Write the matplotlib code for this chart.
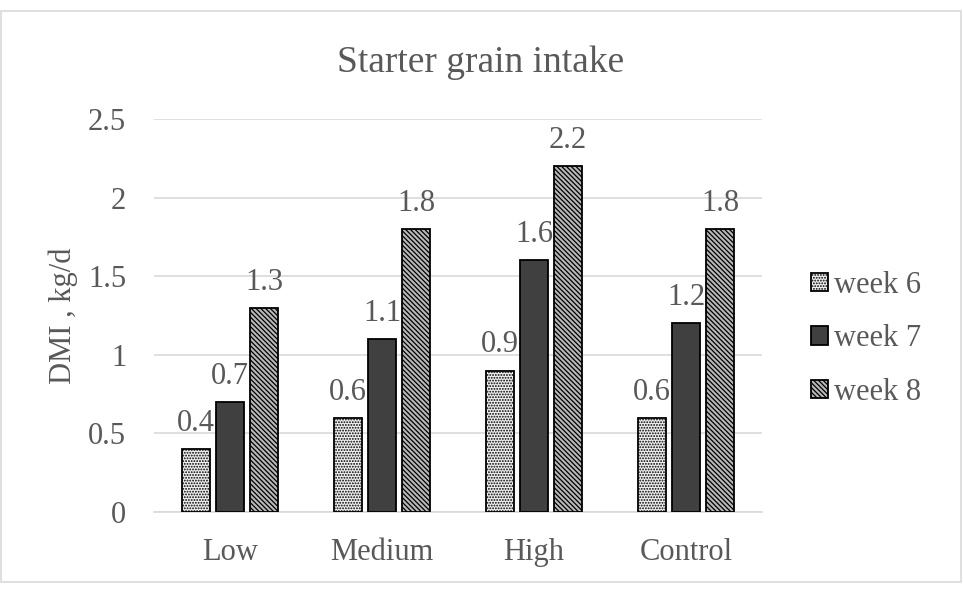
import matplotlib.pyplot as plt
import numpy as np

categories = ["Low", "Medium", "High", "Control"]
week6 = [0.4, 0.6, 0.9, 0.6]
week7 = [0.7, 1.1, 1.6, 1.2]
week8 = [1.3, 1.8, 2.2, 1.8]
series_names = ["week 6", "week 7", "week 8"]

plt.rcParams['font.family'] = ['Liberation Serif', 'DejaVu Serif']
plt.rcParams['hatch.linewidth'] = 0.9
txt = '#595959'
fs = 22

fig = plt.figure(figsize=(9.63, 5.92), dpi=100)
ax = fig.add_axes([154/963, 1 - 512/592, (762-154)/963, (512-119)/592])

x = np.arange(len(categories))
w = 0.184
step = 0.224
styles = [
    dict(facecolor='#f0f0f0', hatch='......', edgecolor='black'),
    dict(facecolor='#404040', hatch=None, edgecolor='black'),
    dict(facecolor='#b8b8b8', hatch='\\\\\\\\\\\\\\', edgecolor='black'),
]
for i, (vals, name, st) in enumerate(zip([week6, week7, week8], series_names, styles)):
    bars = ax.bar(x + (i - 1) * step, vals, w, label=name, linewidth=1.3, zorder=3, **st)
    for b, v in zip(bars, vals):
        ax.annotate(f"{v:g}", (b.get_x() + b.get_width() / 2, v), xytext=(0, 8),
                    textcoords='offset points', ha='center', va='bottom',
                    fontsize=fs, color=txt)

ax.set_ylim(0, 2.5)
ax.set_xlim(-0.5, 3.5)
ax.set_yticks(np.arange(0, 2.51, 0.5))
ax.set_yticklabels(["0", "0.5", "1", "1.5", "2", "2.5"])
ax.set_xticks(x)
ax.set_xticklabels(categories)
ax.tick_params(axis='both', length=0, labelsize=fs, labelcolor=txt)
ax.tick_params(axis='y', pad=20)
ax.tick_params(axis='x', pad=19)
ax.yaxis.grid(True, color='#d9d9d9', linewidth=1.2, zorder=0)
for s in ['top', 'right', 'left']:
    ax.spines[s].set_visible(False)
ax.spines['bottom'].set_color('#d9d9d9')
ax.spines['bottom'].set_linewidth(1.2)

ax.set_ylabel("DMI , kg/d", fontsize=fs, color=txt, labelpad=7)
fig.text(481/963, 1 - 72/592, "Starter grain intake", ha='center', va='baseline',
         fontsize=27, color=txt)

leg = fig.legend(loc='center left', bbox_to_anchor=(811/963, 1 - 339/592), frameon=False,
                 fontsize=fs, labelcolor=txt, handlelength=0.55, handleheight=0.55,
                 handletextpad=0.2, labelspacing=0.8, borderpad=0, borderaxespad=0)

fig.patches.append(plt.Rectangle((1/963, 10/592), 960/963, 571/592, transform=fig.transFigure,
                                 fill=False, edgecolor='#d9d9d9', linewidth=1.2))

fig.savefig("out.png", dpi=100)
